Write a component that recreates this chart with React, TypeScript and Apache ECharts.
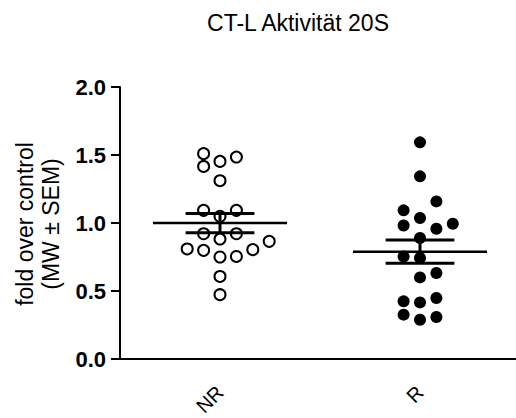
import React, { useEffect, useRef } from "react";
import * as echarts from "echarts";

const titleText = "CT-L Aktivität 20S";
const categories = ["NR", "R"];
const yTicks = [0, 0.5, 1.0, 1.5, 2.0];
const yNameLines = ["fold over control", "(MW ± SEM)"];

// values (fold over control)
const nrValues = [1.51, 1.416, 1.453, 1.485, 1.311, 1.093, 1.093, 1.049, 0.921, 0.921, 0.882, 0.809, 0.799, 0.75, 0.754, 0.804, 0.865, 0.607, 0.473];
// beeswarm lane of each point (column index left/right of centre)
const nrLanes = [-1, -1, 0, 1, 0, -1, 1, 0, -1, 1, 0, -2, -1, 0, 1, 2, 3, 0, 0];

const rValues = [1.593, 1.343, 1.159, 1.093, 1.037, 0.982, 0.958, 0.995, 0.89, 0.754, 0.743, 0.6, 0.632, 0.424, 0.416, 0.449, 0.326, 0.289, 0.309];
const rLanes = [0, 0, 1, -1, 0, -1, 1, 2, 0, -1, 0, 0, 1, -1, 0, 1, -1, 0, 1];

const laneStep = 0.082;

function meanSem(v: number[]) {
  const n = v.length;
  const m = v.reduce((a, b) => a + b, 0) / n;
  const sd = Math.sqrt(v.reduce((a, b) => a + (b - m) * (b - m), 0) / (n - 1));
  return [m, sd / Math.sqrt(n)];
}

export default function App() {
  const ref = useRef<HTMLDivElement>(null);
  useEffect(() => {
    if (!ref.current) return;
    const chart = echarts.init(ref.current, null, { renderer: "svg" });
    const font = "'Liberation Sans', Arial, sans-serif";
    const nrPts = nrValues.map((v, i) => [0 + nrLanes[i] * laneStep, v]);
    const rPts = rValues.map((v, i) => [1 + rLanes[i] * laneStep, v]);
    const stats = [nrValues, rValues].map((v, i) => {
      const [m, s] = meanSem(v);
      return [i, m, s];
    });
    chart.setOption({
      animation: false,
      backgroundColor: "#fff",
      title: {
        text: titleText,
        left: 293,
        top: 6,
        textAlign: "center",
        textStyle: { fontFamily: font, fontSize: 23, fontWeight: "normal", color: "#000" },
      },
      grid: { left: 120, top: 87, width: 400, height: 272, containLabel: false, outerBoundsMode: "none" },
      xAxis: [
        {
          type: "category",
          data: categories,
          boundaryGap: true,
          axisLine: { lineStyle: { color: "#000", width: 2 } },
          axisTick: { alignWithLabel: true, length: 10, lineStyle: { color: "#000", width: 2 } },
          axisLabel: { rotate: 45, margin: 30, color: "#000", fontFamily: font, fontSize: 20 },
          splitLine: { show: false },
        },
        { type: "value", min: -0.5, max: 1.5, show: false },
      ],
      yAxis: {
        type: "value",
        min: yTicks[0],
        max: yTicks[yTicks.length - 1],
        interval: 0.5,
        axisLine: { show: true, onZero: false, lineStyle: { color: "#000", width: 2 } },
        axisTick: { show: true, length: 9, lineStyle: { color: "#000", width: 2 } },
        axisLabel: {
          margin: 14,
          color: "#000",
          fontFamily: font,
          fontSize: 22,
          fontWeight: "bold",
          formatter: (v: number) => v.toFixed(1),
        },
        splitLine: { show: false },
      },
      graphic: [
        {
          type: "text",
          x: 38,
          y: 224,
          rotation: Math.PI / 2,
          style: {
            text: yNameLines.join("\n"),
            fontFamily: font,
            fontSize: 23,
            lineHeight: 26,
            fill: "#000",
            align: "center",
            verticalAlign: "middle",
          },
        },
      ],
      series: [
        {
          type: "scatter",
          xAxisIndex: 1,
          data: nrPts,
          symbol: "circle",
          symbolSize: 11,
          itemStyle: { color: "#fff", borderColor: "#000", borderWidth: 2, opacity: 1 },
          z: 2,
        },
        {
          type: "scatter",
          xAxisIndex: 1,
          data: rPts,
          symbol: "circle",
          symbolSize: 12,
          itemStyle: { color: "#000", opacity: 1 },
          z: 2,
        },
        {
          type: "custom",
          xAxisIndex: 1,
          data: stats,
          z: 3,
          renderItem: (params: any, api: any) => {
            const x = api.value(0);
            const m = api.value(1);
            const s = api.value(2);
            const pMeanL = api.coord([x - 0.335, m]);
            const pMeanR = api.coord([x + 0.335, m]);
            const pHiL = api.coord([x - 0.172, m + s]);
            const pHiR = api.coord([x + 0.172, m + s]);
            const pLoL = api.coord([x - 0.172, m - s]);
            const pLoR = api.coord([x + 0.172, m - s]);
            const pC = api.coord([x, m + s]);
            const pD = api.coord([x, m - s]);
            const st = { stroke: "#000", lineWidth: 3 };
            return {
              type: "group",
              children: [
                { type: "line", shape: { x1: pMeanL[0], y1: pMeanL[1], x2: pMeanR[0], y2: pMeanR[1] }, style: { stroke: "#000", lineWidth: 2.5 } },
                { type: "line", shape: { x1: pHiL[0], y1: pHiL[1], x2: pHiR[0], y2: pHiR[1] }, style: st },
                { type: "line", shape: { x1: pLoL[0], y1: pLoL[1], x2: pLoR[0], y2: pLoR[1] }, style: st },
                { type: "line", shape: { x1: pC[0], y1: pC[1], x2: pD[0], y2: pD[1] }, style: st },
              ],
            };
          },
        },
      ],
    });
    return () => chart.dispose();
  }, []);
  return <div ref={ref} style={{ position: "fixed", left: 0, top: 0, width: 516, height: 418 }} />;
}
